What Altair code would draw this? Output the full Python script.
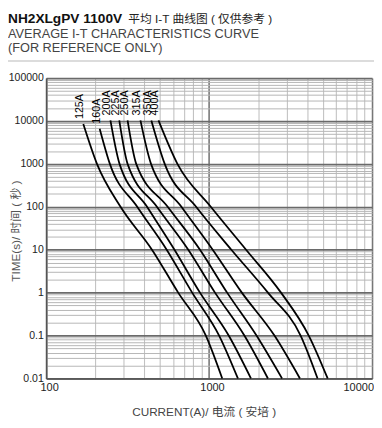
import altair as alt
import pandas as pd

# ---------------- data ----------------
RATINGS = ["125A", "160A", "200A", "225A", "250A", "315A", "350A", "400A"]
START_TIMES = [8500, 6600, 10300, 10300, 10300, 10300, 10300, 10300]
DECADE_TIMES = [1000, 100, 10, 1, 0.1, 0.01]
# current (A) at start time, then at each of DECADE_TIMES
CURRENTS = {
    "125A": [169, 205, 286, 446, 646, 955, 1204],
    "160A": [213, 246, 362, 549, 787, 1152, 1502],
    "200A": [248, 282, 416, 613, 879, 1319, 1806],
    "225A": [281, 316, 478, 745, 1087, 1646, 2296],
    "250A": [316, 357, 557, 879, 1290, 1954, 2803],
    "315A": [379, 440, 676, 1052, 1588, 2518, 3609],
    "350A": [442, 534, 832, 1369, 2296, 3644, 4631],
    "400A": [489, 639, 1024, 1686, 2763, 4088, 5341],
}

X_MAJOR = [100, 1000, 10000]
Y_MAJOR = [0.01, 0.1, 1, 10, 100, 1000, 10000, 100000]
MULTS = [2, 3, 4, 5, 6, 7, 8, 9]
X_MINOR = [m * d for d in X_MAJOR[:-1] for m in MULTS]
Y_MINOR = [round(m * d, 4) for d in Y_MAJOR[:-1] for m in MULTS]

TITLE_BOLD = "NH2XLgPV 1100V"
TITLE_CN = "平均 I-T 曲线图 ( 仅供参考 )"
TITLE_L2 = "AVERAGE I-T CHARACTERISTICS CURVE"
TITLE_L3 = "(FOR REFERENCE ONLY)"
X_TITLE = "CURRENT(A)/ 电流 ( 安培 )"
Y_TITLE = "TIME(s)/ 时间 ( 秒 )"

# ---------------- tables ----------------
rows = []
for r, st in zip(RATINGS, START_TIMES):
    for t, i in zip([st] + DECADE_TIMES, CURRENTS[r]):
        rows.append({"rating": r, "current": i, "time": t})
curves = pd.DataFrame(rows)
labels = pd.DataFrame({
    "rating": RATINGS,
    "current": [CURRENTS[r][0] for r in RATINGS],
    "time": START_TIMES,
})

FONT = "Liberation Sans, Arial, Noto Sans CJK SC"
W, H = 333, 307
major_test = "abs(log(datum.value)/LN10 - round(log(datum.value)/LN10)) < 0.001"

xscale = alt.Scale(type="log", domain=[100, 10000], nice=False)
yscale = alt.Scale(type="log", domain=[0.01, 100000], nice=False)

xaxis = alt.Axis(
    values=X_MINOR + X_MAJOR, title=None, ticks=False,
    labelExpr=f"({major_test}) ? format(datum.value, '~g') : ''",
    labelOverlap=False, labelFlush=False, labelBound=False,
    labelAlign=alt.expr("datum.value == 10000 ? 'right' : 'center'"),
    labelOffset=alt.expr("datum.value == 10000 ? 1.5 : 3"),
    labelPadding=3, labelFont=FONT, labelFontSize=11.2, labelColor="#222",
    domainColor="#555", domainWidth=1.6,
    gridColor={"condition": {"test": major_test, "value": "#777"}, "value": "#c2c2c2"},
    gridWidth={"condition": {"test": major_test, "value": 1.6}, "value": 1.1},
)
yaxis = alt.Axis(
    values=Y_MINOR + Y_MAJOR, title=None, ticks=False,
    labelExpr=f"({major_test}) ? format(datum.value, '~g') : ''",
    labelOverlap=False, labelFlush=False, labelBound=False,
    labelPadding=3, labelFont=FONT, labelFontSize=10.7, labelColor="#222",
    domainColor="#555", domainWidth=1.6,
    gridColor={"condition": {"test": major_test, "value": "#6a6a6a"}, "value": "#b5b5b5"},
    gridWidth={"condition": {"test": major_test, "value": 1.8}, "value": 1.0},
)

lines = alt.Chart(curves).mark_line(
    color="black", strokeWidth=1.8, interpolate="monotone"
).encode(
    x=alt.X("current:Q", scale=xscale, axis=xaxis),
    y=alt.Y("time:Q", scale=yscale, axis=yaxis),
    detail="rating:N",
)

curve_labels = alt.Chart(labels).mark_text(
    angle=270, align="left", baseline="middle", dy=-3, dx=5,
    font=FONT, fontSize=11, color="black",
).encode(x="current:Q", y="time:Q", text="rating:N")

one = pd.DataFrame({"k": [0]})

def txt(text, x, y, size, color="#222", weight="normal", angle=0, align="left", baseline="alphabetic"):
    return alt.Chart(one).mark_text(
        text=text, font=FONT, fontSize=size, color=color, fontWeight=weight,
        angle=angle, align=align, baseline=baseline,
    ).encode(x=alt.value(x), y=alt.value(y))

sep = alt.Chart(one).mark_rule(color="#dcdcdc", strokeWidth=2).encode(
    x=alt.value(-47), x2=alt.value(W + 2), y=alt.value(-17.5)
)

chart = alt.layer(
    lines,
    curve_labels,
    sep,
    txt(TITLE_BOLD, -39, -56, 14, color="#111", weight="bold"),
    txt(TITLE_CN, 84, -56, 12, color="#222"),
    txt(TITLE_L2, -39, -41, 13, color="#444"),
    txt(TITLE_L3, -39, -26.5, 13, color="#444"),
    txt(X_TITLE, W / 2 - 5, 345, 12, color="#444", align="center"),
    txt(Y_TITLE, -31, H / 2 + 3, 12, color="#555", angle=270, align="center", baseline="middle"),
).properties(
    width=W, height=H,
    autosize=alt.AutoSizeParams(type="none"),
    padding={"left": 39, "top": 67, "right": 2, "bottom": 44},
).configure_view(stroke=None)

chart.save("out.html", embed_options={"renderer": "svg", "actions": False})
